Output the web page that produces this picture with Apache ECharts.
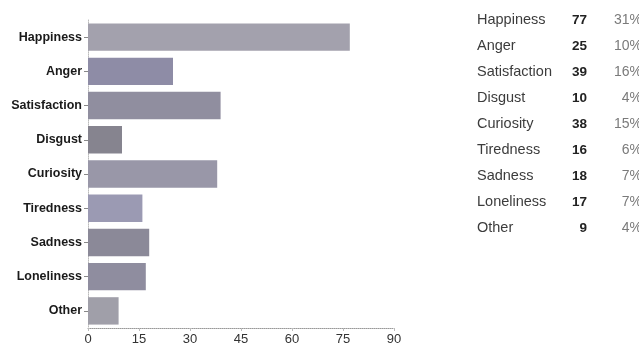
<!DOCTYPE html>
<html>
<head>
<meta charset="utf-8">
<script src="https://cdn.jsdelivr.net/npm/echarts@6/dist/echarts.min.js"></script>
<style>
html,body{margin:0;padding:0;background:#fff;}
#c{width:639px;height:347px;}
</style>
</head>
<body>
<div id="c"></div>
<script>
var categories = ['Happiness','Anger','Satisfaction','Disgust','Curiosity','Tiredness','Sadness','Loneliness','Other'];
var counts = [77, 25, 39, 10, 38, 16, 18, 17, 9];
var percents = ['31%','10%','16%','4%','15%','6%','7%','7%','4%'];
var xTicks = [0, 15, 30, 45, 60, 75, 90];

var barColors = ['#a3a1ad','#8e8ca6','#908e9f','#86848f','#9997a8','#9b9ab3','#8b8998','#8f8d9f','#a09fa9'];

var chart = echarts.init(document.getElementById('c'), null, {renderer:'canvas'});

var graphics = [];
var rowTop = 20, rowStep = 26;
for (var i = 0; i < categories.length; i++) {
  var y = rowTop + i * rowStep;
  graphics.push({type:'text', x:477, y:y, style:{text:categories[i], fill:'#3c3c3c', font:'14.5px "Liberation Sans", Arial, sans-serif', textAlign:'left', textVerticalAlign:'middle'}});
  graphics.push({type:'text', x:587, y:y, style:{text:String(counts[i]), fill:'#222', font:'bold 13.5px "Liberation Sans", Arial, sans-serif', textAlign:'right', textVerticalAlign:'middle'}});
  graphics.push({type:'text', x:642, y:y, style:{text:percents[i], fill:'#7a7a7a', font:'14px "Liberation Sans", Arial, sans-serif', textAlign:'right', textVerticalAlign:'middle'}});
}

chart.setOption({
  animation:false,
  backgroundColor:'#fff',
  grid:{left:88, right:245, top:20, bottom:19, containLabel:false},
  xAxis:{
    type:'value', min:xTicks[0], max:xTicks[xTicks.length-1], interval:15,
    axisLine:{show:true, lineStyle:{color:'#999', type:'dotted', width:1}},
    axisTick:{show:true, length:3, lineStyle:{color:'#bbb'}},
    splitLine:{show:false},
    axisLabel:{margin:5, color:'#333', fontSize:13, fontFamily:'"Liberation Sans", Arial, sans-serif'}
  },
  yAxis:{
    type:'category', data:categories, inverse:true,
    axisLine:{show:true, lineStyle:{color:'#bbb', type:'dotted'}},
    axisTick:{show:true, alignWithLabel:true, length:4, lineStyle:{color:'#888'}},
    axisLabel:{margin:6, color:'#1a1a1a', fontSize:12.5, fontWeight:'bold', fontFamily:'"Liberation Sans", Arial, sans-serif'}
  },
  series:[{
    type:'bar', data:counts, barCategoryGap:'20%',
    itemStyle:{color:function(p){return barColors[p.dataIndex % barColors.length];}}
  }],
  graphic:graphics
});
</script>
</body>
</html>
